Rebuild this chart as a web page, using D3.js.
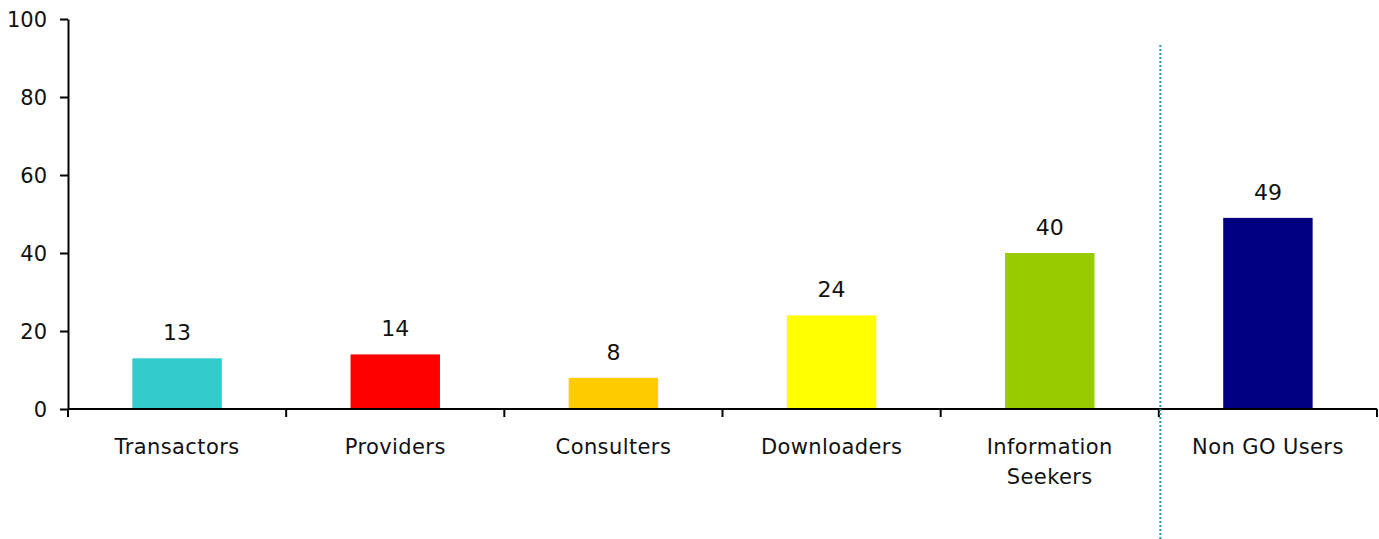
<!DOCTYPE html>
<html>
<head>
<meta charset="utf-8">
<script src="https://cdn.jsdelivr.net/npm/d3@7"></script>
<style>
  body { margin: 0; background: #fff; }
  svg text { font-family: "DejaVu Sans", Verdana, sans-serif; fill: #111; }
</style>
</head>
<body>
<svg id="chart" width="1379" height="539"></svg>
<script>
// chart data
const categories = ["Transactors", "Providers", "Consulters", "Downloaders", "Information\nSeekers", "Non GO Users"];
const values = [13, 14, 8, 24, 40, 49];
const barColors = ["#33cccc", "#ff0000", "#ffcc00", "#ffff00", "#99cc00", "#000080"];
const yTicks = [0, 20, 40, 60, 80, 100];

const svg = d3.select("#chart");
const mLeft = 68, mRight = 1377, mTop = 19, mBottom = 409;

// scales
const x = d3.scaleBand()
    .domain(categories)
    .range([mLeft, mRight])
    .padding(0);
const y = d3.scaleLinear()
    .domain([0, 100])
    .range([mBottom, mTop]);

const barW = x.bandwidth() * 0.41;

// bars
svg.append("g")
    .selectAll("rect")
    .data(values)
    .enter().append("rect")
        .attr("x", (d, i) => x(categories[i]) + (x.bandwidth() - barW) / 2)
        .attr("y", d => y(d))
        .attr("width", barW)
        .attr("height", d => y(0) - y(d))
        .attr("fill", (d, i) => barColors[i]);

// value labels
svg.append("g")
    .selectAll("text")
    .data(values)
    .enter().append("text")
        .attr("x", (d, i) => x(categories[i]) + x.bandwidth() / 2)
        .attr("y", d => y(d) - 18)
        .attr("text-anchor", "middle")
        .style("font-size", "22px")
        .text(d => d);

// y axis
const yAxis = svg.append("g")
    .attr("transform", "translate(" + mLeft + ",0)")
    .call(d3.axisLeft(y).tickValues(yTicks).tickSize(8).tickPadding(13).tickSizeOuter(0));
yAxis.select(".domain").attr("stroke", "#000").attr("stroke-width", 2);
yAxis.selectAll(".tick line").attr("stroke", "#000").attr("stroke-width", 2);
yAxis.selectAll(".tick text").style("font-size", "21px").attr("dy", "0.38em");

// x axis: line plus boundary ticks between categories
const xAxis = svg.append("g");
xAxis.append("line")
    .attr("x1", mLeft).attr("x2", mRight)
    .attr("y1", mBottom).attr("y2", mBottom)
    .attr("stroke", "#000").attr("stroke-width", 2);
const bounds = categories.map(c => x(c)).concat([x(categories[categories.length - 1]) + x.bandwidth()]);
xAxis.selectAll("line.tk")
    .data(bounds)
    .enter().append("line")
        .attr("class", "tk")
        .attr("x1", d => d).attr("x2", d => d)
        .attr("y1", mBottom).attr("y2", mBottom + 8)
        .attr("stroke", "#000").attr("stroke-width", 2);

// category labels
const lab = svg.append("g")
    .selectAll("text")
    .data(categories)
    .enter().append("text")
        .attr("x", d => x(d) + x.bandwidth() / 2)
        .attr("y", 454)
        .attr("text-anchor", "middle")
        .style("font-size", "21px")
        .style("letter-spacing", "0.4px");
lab.selectAll("tspan")
    .data(d => d.split("\n"))
    .enter().append("tspan")
        .attr("x", function() { return d3.select(this.parentNode).attr("x"); })
        .attr("dy", (d, i) => i === 0 ? 0 : 30)
        .text(d => d);

// dotted separator before Non GO Users
const sepX = x(categories[5]) + 1.5;
svg.append("line")
    .attr("x1", sepX).attr("x2", sepX)
    .attr("y1", 45).attr("y2", 539)
    .attr("stroke", "#2a9d9d")
    .attr("stroke-width", 2)
    .attr("stroke-dasharray", "2,2");
</script>
</body>
</html>
